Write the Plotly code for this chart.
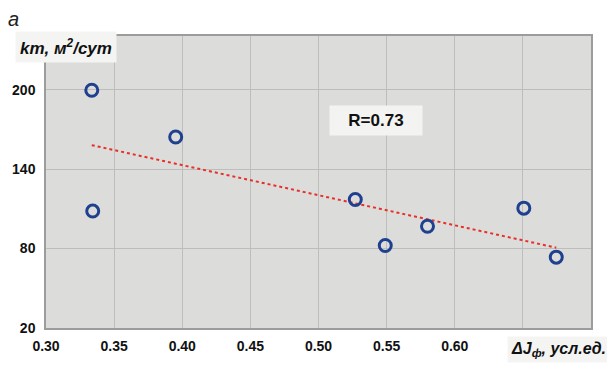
import numpy as np
import plotly.graph_objects as go

# data
dJ = [0.3336, 0.3343, 0.3952, 0.527, 0.549, 0.580, 0.6507, 0.6745]
km = [199.5, 108.3, 164.2, 117.0, 82.3, 96.8, 110.5, 73.5]
x_ticks = [0.30, 0.35, 0.40, 0.45, 0.50, 0.55, 0.60, 0.65, 0.70]
x_tick_labels = ["0.30", "0.35", "0.40", "0.45", "0.50", "0.55", "0.60", "", ""]
y_ticks = [20, 80, 140, 200]
y_tick_labels = ["20", "80", "140", "200"]
r_label = "R=0.73"

slope, icpt = np.polyfit(dJ, km, 1)
tx = [min(dJ), max(dJ)]
ty = [slope * v + icpt for v in tx]

FONT = "Liberation Sans, Arial, sans-serif"
# page body has an 8px default margin; figure sized to fit the 615x369 window
OFF = 8
W, H = 615 - OFF, 369 - OFF
L, R, T, B = 46 - OFF, 24, 36 - OFF, 41
PW, PH = W - L - R, H - T - B


def px(page_x):
    return (page_x - OFF - L) / PW


def py(page_y):
    return 1 - (page_y - OFF - T) / PH


fig = go.Figure()
fig.add_trace(go.Scatter(x=tx, y=ty, mode="lines",
                         line=dict(color="#e8302a", width=2, dash="dot"),
                         hoverinfo="skip"))
fig.add_trace(go.Scatter(x=dJ, y=km, mode="markers",
                         marker=dict(symbol="circle-open", size=12, color="#1f3f8f",
                                     line=dict(width=3, color="#1f3f8f"))))

tickfont = dict(family=FONT, size=14, color="#111")
fig.update_layout(
    width=W, height=H,
    margin=dict(l=L, r=R, t=T, b=B, autoexpand=False),
    paper_bgcolor="white", plot_bgcolor="#dcdddb",
    showlegend=False,
    font=dict(family=FONT, size=13, color="#111"),
    xaxis=dict(range=[0.30, 0.70], tickvals=x_ticks,
               ticktext=["<b>%s</b>" % t if t else "" for t in x_tick_labels],
               showgrid=True, gridcolor="#bdbebc", gridwidth=1,
               showline=True, linecolor="#9c9c9c", linewidth=1.5, mirror=True,
               zeroline=False, ticks="", ticklabelstandoff=4, tickfont=tickfont),
    yaxis=dict(range=[20, 240.5], tickvals=y_ticks,
               ticktext=["<b>%s</b>" % t for t in y_tick_labels],
               showgrid=True, gridcolor="#bdbebc", gridwidth=1,
               showline=True, linecolor="#9c9c9c", linewidth=1.5, mirror=True,
               zeroline=False, ticks="", ticklabelstandoff=6, tickfont=tickfont),
)

fig.add_annotation(x=px(6), y=py(19), xref="paper", yref="paper",
                   xanchor="left", yanchor="middle",
                   text="<i>а</i>", showarrow=False,
                   font=dict(family=FONT, size=20, color="#222"))
fig.add_annotation(x=px(66), y=py(47), xref="paper", yref="paper",
                   xanchor="center", yanchor="middle",
                   text="<b><i>km, м<sup>2</sup>/сут</i></b>", showarrow=False,
                   bgcolor="#f4f5f3", borderpad=4,
                   font=dict(family=FONT, size=17, color="#111"))
fig.add_annotation(x=px(376), y=py(121), xref="paper", yref="paper",
                   xanchor="center", yanchor="middle",
                   text="<b>" + r_label + "</b>", showarrow=False,
                   bgcolor="#f3f4f2", borderpad=5, width=82,
                   font=dict(family=FONT, size=17, color="#111"))
fig.add_annotation(x=px(610), y=py(349), xref="paper", yref="paper",
                   xanchor="right", yanchor="middle",
                   text="<b><i>ΔJ<sub>ф</sub>, усл.ед.</i></b>", showarrow=False,
                   bgcolor="#f4f5f3", borderpad=3,
                   font=dict(family=FONT, size=16, color="#111"))

fig.write_html("out.html")
